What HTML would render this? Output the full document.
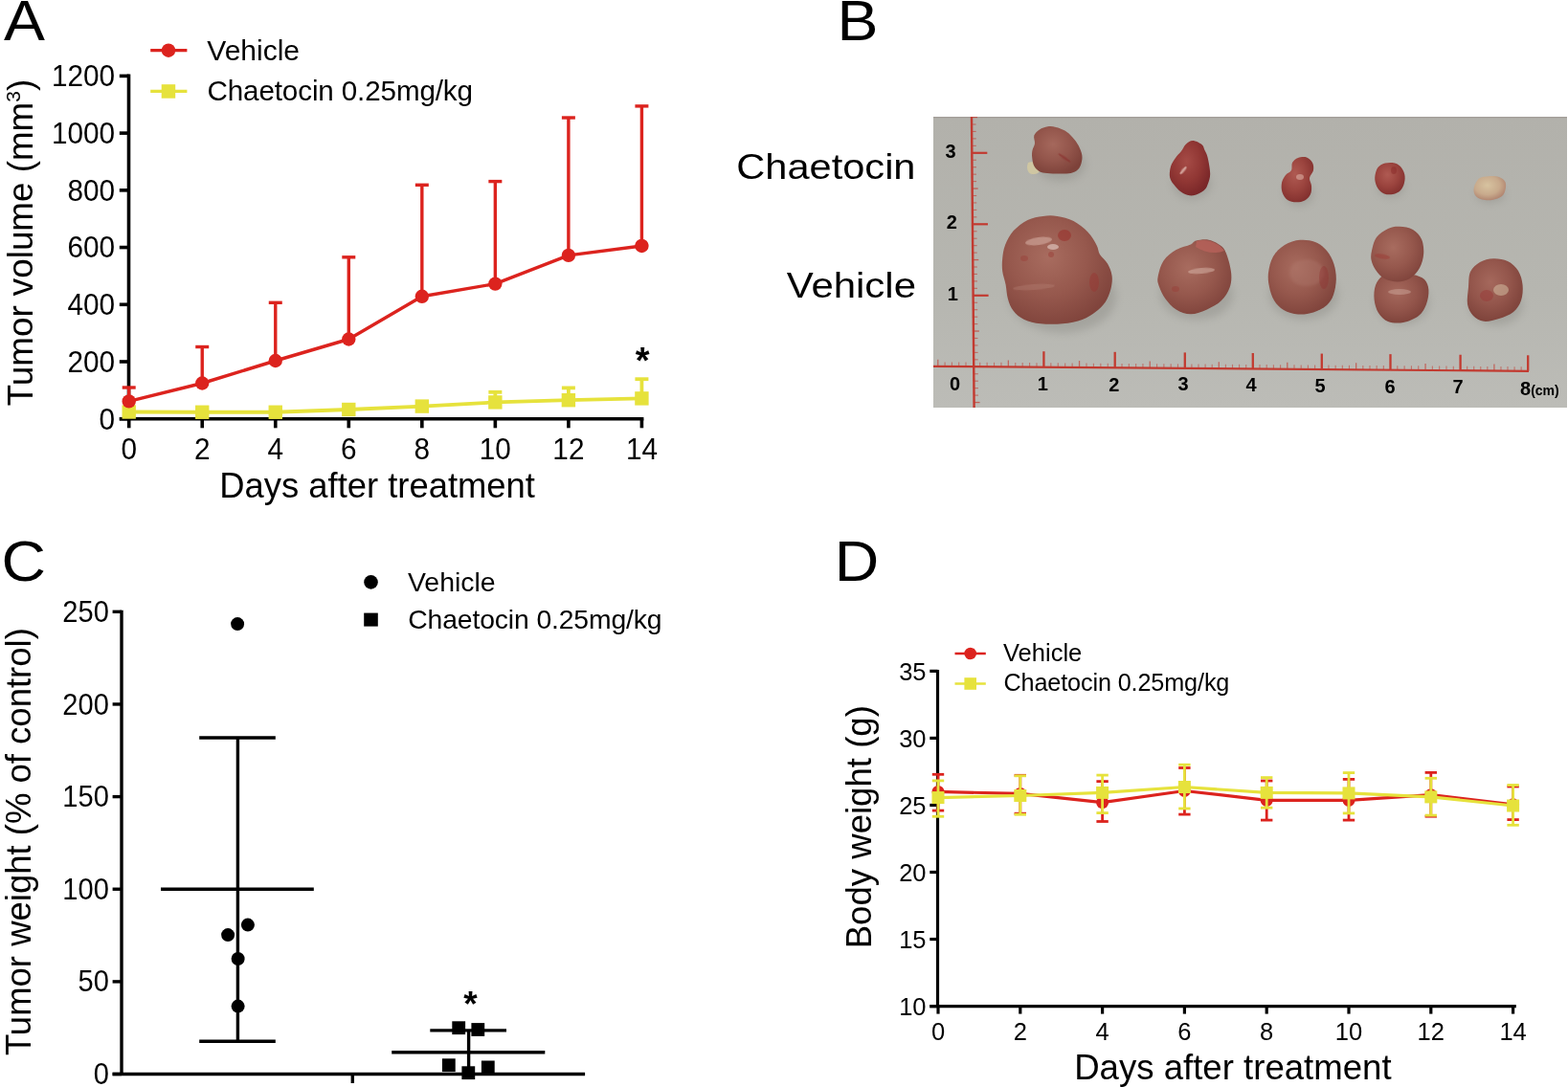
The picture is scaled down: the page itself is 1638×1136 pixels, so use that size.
<!DOCTYPE html>
<html><head><meta charset="utf-8"><title>Figure</title>
<style>
html,body{margin:0;padding:0;background:#fff;}
body{width:1638px;height:1136px;overflow:hidden;}
svg{display:block;}
text{font-family:'Liberation Sans', Arial, Helvetica, sans-serif;fill:#000;}
</style></head><body>
<svg width="1638" height="1136" viewBox="0 0 1638 1136">
<rect width="1638" height="1136" fill="#fff"/>
<text transform="translate(4.0,41.5) scale(1.1,1)" font-size="58.5">A</text>
<text transform="translate(874.5,41.9) scale(1.1,1)" font-size="58.5">B</text>
<text transform="translate(1.5,607.0) scale(1.1,1)" font-size="58.5">C</text>
<text transform="translate(871.8,607.0) scale(1.1,1)" font-size="58.5">D</text>
<line x1="134.50" y1="77.60" x2="134.50" y2="437.70" stroke="#000" stroke-width="3.6" stroke-linecap="butt"/>
<line x1="124.80" y1="437.70" x2="672.40" y2="437.70" stroke="#000" stroke-width="3.6" stroke-linecap="butt"/>
<line x1="124.80" y1="437.70" x2="134.50" y2="437.70" stroke="#000" stroke-width="3.6" stroke-linecap="butt"/>
<text transform="translate(120.00,448.60) scale(0.965,1)" font-size="30.8" text-anchor="end" >0</text>
<line x1="124.80" y1="377.98" x2="134.50" y2="377.98" stroke="#000" stroke-width="3.6" stroke-linecap="butt"/>
<text transform="translate(120.00,388.88) scale(0.965,1)" font-size="30.8" text-anchor="end" >200</text>
<line x1="124.80" y1="318.27" x2="134.50" y2="318.27" stroke="#000" stroke-width="3.6" stroke-linecap="butt"/>
<text transform="translate(120.00,329.17) scale(0.965,1)" font-size="30.8" text-anchor="end" >400</text>
<line x1="124.80" y1="258.55" x2="134.50" y2="258.55" stroke="#000" stroke-width="3.6" stroke-linecap="butt"/>
<text transform="translate(120.00,269.45) scale(0.965,1)" font-size="30.8" text-anchor="end" >600</text>
<line x1="124.80" y1="198.84" x2="134.50" y2="198.84" stroke="#000" stroke-width="3.6" stroke-linecap="butt"/>
<text transform="translate(120.00,209.74) scale(0.965,1)" font-size="30.8" text-anchor="end" >800</text>
<line x1="124.80" y1="139.12" x2="134.50" y2="139.12" stroke="#000" stroke-width="3.6" stroke-linecap="butt"/>
<text transform="translate(120.00,150.02) scale(0.965,1)" font-size="30.8" text-anchor="end" >1000</text>
<line x1="124.80" y1="79.40" x2="134.50" y2="79.40" stroke="#000" stroke-width="3.6" stroke-linecap="butt"/>
<text transform="translate(120.00,90.30) scale(0.965,1)" font-size="30.8" text-anchor="end" >1200</text>
<line x1="134.70" y1="437.70" x2="134.70" y2="447.30" stroke="#000" stroke-width="3.6" stroke-linecap="butt"/>
<text transform="translate(134.70,479.90) scale(0.965,1)" font-size="30.8" text-anchor="middle" >0</text>
<line x1="211.23" y1="437.70" x2="211.23" y2="447.30" stroke="#000" stroke-width="3.6" stroke-linecap="butt"/>
<text transform="translate(211.23,479.90) scale(0.965,1)" font-size="30.8" text-anchor="middle" >2</text>
<line x1="287.76" y1="437.70" x2="287.76" y2="447.30" stroke="#000" stroke-width="3.6" stroke-linecap="butt"/>
<text transform="translate(287.76,479.90) scale(0.965,1)" font-size="30.8" text-anchor="middle" >4</text>
<line x1="364.29" y1="437.70" x2="364.29" y2="447.30" stroke="#000" stroke-width="3.6" stroke-linecap="butt"/>
<text transform="translate(364.29,479.90) scale(0.965,1)" font-size="30.8" text-anchor="middle" >6</text>
<line x1="440.82" y1="437.70" x2="440.82" y2="447.30" stroke="#000" stroke-width="3.6" stroke-linecap="butt"/>
<text transform="translate(440.82,479.90) scale(0.965,1)" font-size="30.8" text-anchor="middle" >8</text>
<line x1="517.35" y1="437.70" x2="517.35" y2="447.30" stroke="#000" stroke-width="3.6" stroke-linecap="butt"/>
<text transform="translate(517.35,479.90) scale(0.965,1)" font-size="30.8" text-anchor="middle" >10</text>
<line x1="593.88" y1="437.70" x2="593.88" y2="447.30" stroke="#000" stroke-width="3.6" stroke-linecap="butt"/>
<text transform="translate(593.88,479.90) scale(0.965,1)" font-size="30.8" text-anchor="middle" >12</text>
<line x1="670.41" y1="437.70" x2="670.41" y2="447.30" stroke="#000" stroke-width="3.6" stroke-linecap="butt"/>
<text transform="translate(670.41,479.90) scale(0.965,1)" font-size="30.8" text-anchor="middle" >14</text>
<text x="229.30" y="520.00" font-size="36.4" text-anchor="start" >Days after treatment</text>
<text transform="translate(33.7,424.3) rotate(-90)" font-size="36.8">Tumor volume (mm<tspan font-size="21" dy="-12.6">3</tspan><tspan dy="12.6">)</tspan></text>
<line x1="157.20" y1="52.70" x2="195.40" y2="52.70" stroke="#dc231e" stroke-width="3.3" stroke-linecap="butt"/>
<circle cx="176" cy="52.7" r="7.2" fill="#dc231e"/>
<line x1="157.20" y1="95.40" x2="195.40" y2="95.40" stroke="#e6e23c" stroke-width="3.3" stroke-linecap="butt"/>
<rect x="168.7" y="88.2" width="14.5" height="14.5" fill="#e6e23c"/>
<text x="216.30" y="62.60" font-size="30.0" text-anchor="start" >Vehicle</text>
<text x="216.50" y="105.10" font-size="29.6" text-anchor="start" letter-spacing="-0.12">Chaetocin 0.25mg/kg</text>
<line x1="517.35" y1="420.40" x2="517.35" y2="409.80" stroke="#e6e23c" stroke-width="3.8" stroke-linecap="butt"/>
<line x1="510.35" y1="409.80" x2="524.35" y2="409.80" stroke="#e6e23c" stroke-width="3.8" stroke-linecap="butt"/>
<line x1="593.88" y1="418.20" x2="593.88" y2="405.40" stroke="#e6e23c" stroke-width="3.8" stroke-linecap="butt"/>
<line x1="586.88" y1="405.40" x2="600.88" y2="405.40" stroke="#e6e23c" stroke-width="3.8" stroke-linecap="butt"/>
<line x1="670.41" y1="416.40" x2="670.41" y2="396.20" stroke="#e6e23c" stroke-width="3.8" stroke-linecap="butt"/>
<line x1="663.41" y1="396.20" x2="677.41" y2="396.20" stroke="#e6e23c" stroke-width="3.8" stroke-linecap="butt"/>
<polyline points="134.70,430.50 211.23,430.75 287.76,430.75 364.29,428.00 440.82,424.60 517.35,420.40 593.88,418.20 670.41,416.40" fill="none" stroke="#e6e23c" stroke-width="3.8" stroke-linejoin="round"/>
<rect x="127.50" y="423.30" width="14.4" height="14.4" fill="#e6e23c"/>
<rect x="204.03" y="423.55" width="14.4" height="14.4" fill="#e6e23c"/>
<rect x="280.56" y="423.55" width="14.4" height="14.4" fill="#e6e23c"/>
<rect x="357.09" y="420.80" width="14.4" height="14.4" fill="#e6e23c"/>
<rect x="433.62" y="417.40" width="14.4" height="14.4" fill="#e6e23c"/>
<rect x="510.15" y="413.20" width="14.4" height="14.4" fill="#e6e23c"/>
<rect x="586.68" y="411.00" width="14.4" height="14.4" fill="#e6e23c"/>
<rect x="663.21" y="409.20" width="14.4" height="14.4" fill="#e6e23c"/>
<line x1="134.70" y1="419.40" x2="134.70" y2="405.00" stroke="#dc231e" stroke-width="3.4" stroke-linecap="butt"/>
<line x1="127.70" y1="405.00" x2="141.70" y2="405.00" stroke="#dc231e" stroke-width="3.4" stroke-linecap="butt"/>
<line x1="211.23" y1="400.50" x2="211.23" y2="362.50" stroke="#dc231e" stroke-width="3.4" stroke-linecap="butt"/>
<line x1="204.23" y1="362.50" x2="218.23" y2="362.50" stroke="#dc231e" stroke-width="3.4" stroke-linecap="butt"/>
<line x1="287.76" y1="377.00" x2="287.76" y2="316.30" stroke="#dc231e" stroke-width="3.4" stroke-linecap="butt"/>
<line x1="280.76" y1="316.30" x2="294.76" y2="316.30" stroke="#dc231e" stroke-width="3.4" stroke-linecap="butt"/>
<line x1="364.29" y1="354.50" x2="364.29" y2="268.80" stroke="#dc231e" stroke-width="3.4" stroke-linecap="butt"/>
<line x1="357.29" y1="268.80" x2="371.29" y2="268.80" stroke="#dc231e" stroke-width="3.4" stroke-linecap="butt"/>
<line x1="440.82" y1="309.80" x2="440.82" y2="193.30" stroke="#dc231e" stroke-width="3.4" stroke-linecap="butt"/>
<line x1="433.82" y1="193.30" x2="447.82" y2="193.30" stroke="#dc231e" stroke-width="3.4" stroke-linecap="butt"/>
<line x1="517.35" y1="296.60" x2="517.35" y2="189.60" stroke="#dc231e" stroke-width="3.4" stroke-linecap="butt"/>
<line x1="510.35" y1="189.60" x2="524.35" y2="189.60" stroke="#dc231e" stroke-width="3.4" stroke-linecap="butt"/>
<line x1="593.88" y1="266.90" x2="593.88" y2="123.00" stroke="#dc231e" stroke-width="3.4" stroke-linecap="butt"/>
<line x1="586.88" y1="123.00" x2="600.88" y2="123.00" stroke="#dc231e" stroke-width="3.4" stroke-linecap="butt"/>
<line x1="670.41" y1="256.95" x2="670.41" y2="110.90" stroke="#dc231e" stroke-width="3.4" stroke-linecap="butt"/>
<line x1="663.41" y1="110.90" x2="677.41" y2="110.90" stroke="#dc231e" stroke-width="3.4" stroke-linecap="butt"/>
<polyline points="134.70,419.40 211.23,400.50 287.76,377.00 364.29,354.50 440.82,309.80 517.35,296.60 593.88,266.90 670.41,256.95" fill="none" stroke="#dc231e" stroke-width="3.4" stroke-linejoin="round"/>
<circle cx="134.70" cy="419.40" r="7.2" fill="#dc231e"/>
<circle cx="211.23" cy="400.50" r="7.2" fill="#dc231e"/>
<circle cx="287.76" cy="377.00" r="7.2" fill="#dc231e"/>
<circle cx="364.29" cy="354.50" r="7.2" fill="#dc231e"/>
<circle cx="440.82" cy="309.80" r="7.2" fill="#dc231e"/>
<circle cx="517.35" cy="296.60" r="7.2" fill="#dc231e"/>
<circle cx="593.88" cy="266.90" r="7.2" fill="#dc231e"/>
<circle cx="670.41" cy="256.95" r="7.2" fill="#dc231e"/>
<text x="671.20" y="389.70" font-size="38" text-anchor="middle" font-weight="bold">*</text>
<defs>
<filter id="blur3" x="-50%" y="-50%" width="200%" height="200%"><feGaussianBlur stdDeviation="4"/></filter>
<filter id="blur1" x="-20%" y="-20%" width="140%" height="140%"><feGaussianBlur stdDeviation="0.7"/></filter>
<filter id="blur2" x="-30%" y="-30%" width="160%" height="160%"><feGaussianBlur stdDeviation="1.6"/></filter>
<clipPath id="photoclip"><rect x="975" y="122" width="662" height="304"/></clipPath>
<radialGradient id="gPink" cx="42%" cy="38%" r="65%"><stop offset="0" stop-color="#a86c5f"/><stop offset="0.55" stop-color="#96584d"/><stop offset="1" stop-color="#80443c"/></radialGradient>
<radialGradient id="gPink2" cx="42%" cy="38%" r="65%"><stop offset="0" stop-color="#a5685c"/><stop offset="0.55" stop-color="#93554b"/><stop offset="1" stop-color="#7d423a"/></radialGradient>
<radialGradient id="gRed" cx="42%" cy="38%" r="65%"><stop offset="0" stop-color="#a54b46"/><stop offset="0.55" stop-color="#913734"/><stop offset="1" stop-color="#782628"/></radialGradient>
<radialGradient id="gRed2" cx="42%" cy="38%" r="65%"><stop offset="0" stop-color="#af5a52"/><stop offset="0.55" stop-color="#9b443e"/><stop offset="1" stop-color="#82302e"/></radialGradient>
<radialGradient id="gPale" cx="42%" cy="38%" r="65%"><stop offset="0" stop-color="#d7c3a0"/><stop offset="0.6" stop-color="#c8aa8c"/><stop offset="1" stop-color="#af826e"/></radialGradient>
<linearGradient id="gBg" x1="0" y1="0" x2="0" y2="1"><stop offset="0" stop-color="#b2b1ab"/><stop offset="0.6" stop-color="#b6b6b0"/><stop offset="1" stop-color="#bcbcb7"/></linearGradient>
</defs>
<g clip-path="url(#photoclip)">
<rect x="975.0" y="122.0" width="662.0" height="304.0" fill="url(#gBg)"/>
<rect x="975.0" y="122.0" width="662.0" height="1.3" fill="#a39e98"/>
<ellipse cx="1108.0" cy="172.0" rx="26.0" ry="17.0" fill="#8d8c86" opacity="0.45" filter="url(#blur3)"/>
<ellipse cx="1245.0" cy="192.0" rx="20.0" ry="16.0" fill="#8d8c86" opacity="0.45" filter="url(#blur3)"/>
<ellipse cx="1357.0" cy="202.0" rx="15.0" ry="13.0" fill="#8d8c86" opacity="0.45" filter="url(#blur3)"/>
<ellipse cx="1453.0" cy="195.0" rx="14.0" ry="11.0" fill="#8d8c86" opacity="0.45" filter="url(#blur3)"/>
<ellipse cx="1557.0" cy="203.0" rx="15.0" ry="9.0" fill="#8d8c86" opacity="0.45" filter="url(#blur3)"/>
<ellipse cx="1110.0" cy="310.0" rx="56.0" ry="38.0" fill="#8d8c86" opacity="0.45" filter="url(#blur3)"/>
<ellipse cx="1250.0" cy="308.0" rx="38.0" ry="26.0" fill="#8d8c86" opacity="0.45" filter="url(#blur3)"/>
<ellipse cx="1362.0" cy="308.0" rx="36.0" ry="26.0" fill="#8d8c86" opacity="0.45" filter="url(#blur3)"/>
<ellipse cx="1465.0" cy="315.0" rx="28.0" ry="24.0" fill="#8d8c86" opacity="0.45" filter="url(#blur3)"/>
<ellipse cx="1563.0" cy="318.0" rx="28.0" ry="22.0" fill="#8d8c86" opacity="0.45" filter="url(#blur3)"/>
<line x1="1015.00" y1="122" x2="1017.60" y2="426" stroke="#c23a30" stroke-width="2.4"/>
<line x1="975" y1="382.80" x2="1597" y2="387.80" stroke="#c23a30" stroke-width="2.2"/>
<line x1="1017.55" y1="420.55" x2="1023.55" y2="420.55" stroke="#c23a30" stroke-width="1.3" opacity="0.7"/>
<line x1="1017.49" y1="413.10" x2="1021.99" y2="413.10" stroke="#c23a30" stroke-width="1.1" opacity="0.6"/>
<line x1="1017.43" y1="405.65" x2="1021.93" y2="405.65" stroke="#c23a30" stroke-width="1.1" opacity="0.6"/>
<line x1="1017.36" y1="398.20" x2="1021.86" y2="398.20" stroke="#c23a30" stroke-width="1.1" opacity="0.6"/>
<line x1="1017.30" y1="390.75" x2="1021.80" y2="390.75" stroke="#c23a30" stroke-width="1.1" opacity="0.6"/>
<line x1="1017.17" y1="375.85" x2="1021.67" y2="375.85" stroke="#c23a30" stroke-width="1.1" opacity="0.6"/>
<line x1="1017.11" y1="368.40" x2="1021.61" y2="368.40" stroke="#c23a30" stroke-width="1.1" opacity="0.6"/>
<line x1="1017.04" y1="360.95" x2="1021.54" y2="360.95" stroke="#c23a30" stroke-width="1.1" opacity="0.6"/>
<line x1="1016.98" y1="353.50" x2="1021.48" y2="353.50" stroke="#c23a30" stroke-width="1.1" opacity="0.6"/>
<line x1="1016.92" y1="346.05" x2="1022.92" y2="346.05" stroke="#c23a30" stroke-width="1.3" opacity="0.7"/>
<line x1="1016.85" y1="338.60" x2="1021.35" y2="338.60" stroke="#c23a30" stroke-width="1.1" opacity="0.6"/>
<line x1="1016.79" y1="331.15" x2="1021.29" y2="331.15" stroke="#c23a30" stroke-width="1.1" opacity="0.6"/>
<line x1="1016.73" y1="323.70" x2="1021.23" y2="323.70" stroke="#c23a30" stroke-width="1.1" opacity="0.6"/>
<line x1="1016.66" y1="316.25" x2="1021.16" y2="316.25" stroke="#c23a30" stroke-width="1.1" opacity="0.6"/>
<line x1="1016.60" y1="308.80" x2="1032.60" y2="308.80" stroke="#c23a30" stroke-width="2.2" opacity="1.0"/>
<line x1="1016.53" y1="301.35" x2="1021.03" y2="301.35" stroke="#c23a30" stroke-width="1.1" opacity="0.6"/>
<line x1="1016.47" y1="293.90" x2="1020.97" y2="293.90" stroke="#c23a30" stroke-width="1.1" opacity="0.6"/>
<line x1="1016.41" y1="286.45" x2="1020.91" y2="286.45" stroke="#c23a30" stroke-width="1.1" opacity="0.6"/>
<line x1="1016.34" y1="279.00" x2="1020.84" y2="279.00" stroke="#c23a30" stroke-width="1.1" opacity="0.6"/>
<line x1="1016.28" y1="271.55" x2="1022.28" y2="271.55" stroke="#c23a30" stroke-width="1.3" opacity="0.7"/>
<line x1="1016.22" y1="264.10" x2="1020.72" y2="264.10" stroke="#c23a30" stroke-width="1.1" opacity="0.6"/>
<line x1="1016.15" y1="256.65" x2="1020.65" y2="256.65" stroke="#c23a30" stroke-width="1.1" opacity="0.6"/>
<line x1="1016.09" y1="249.20" x2="1020.59" y2="249.20" stroke="#c23a30" stroke-width="1.1" opacity="0.6"/>
<line x1="1016.02" y1="241.75" x2="1020.52" y2="241.75" stroke="#c23a30" stroke-width="1.1" opacity="0.6"/>
<line x1="1015.96" y1="234.30" x2="1031.96" y2="234.30" stroke="#c23a30" stroke-width="2.2" opacity="1.0"/>
<line x1="1015.90" y1="226.85" x2="1020.40" y2="226.85" stroke="#c23a30" stroke-width="1.1" opacity="0.6"/>
<line x1="1015.83" y1="219.40" x2="1020.33" y2="219.40" stroke="#c23a30" stroke-width="1.1" opacity="0.6"/>
<line x1="1015.77" y1="211.95" x2="1020.27" y2="211.95" stroke="#c23a30" stroke-width="1.1" opacity="0.6"/>
<line x1="1015.71" y1="204.50" x2="1020.21" y2="204.50" stroke="#c23a30" stroke-width="1.1" opacity="0.6"/>
<line x1="1015.64" y1="197.05" x2="1021.64" y2="197.05" stroke="#c23a30" stroke-width="1.3" opacity="0.7"/>
<line x1="1015.58" y1="189.60" x2="1020.08" y2="189.60" stroke="#c23a30" stroke-width="1.1" opacity="0.6"/>
<line x1="1015.51" y1="182.15" x2="1020.01" y2="182.15" stroke="#c23a30" stroke-width="1.1" opacity="0.6"/>
<line x1="1015.45" y1="174.70" x2="1019.95" y2="174.70" stroke="#c23a30" stroke-width="1.1" opacity="0.6"/>
<line x1="1015.39" y1="167.25" x2="1019.89" y2="167.25" stroke="#c23a30" stroke-width="1.1" opacity="0.6"/>
<line x1="1015.32" y1="159.80" x2="1031.32" y2="159.80" stroke="#c23a30" stroke-width="2.2" opacity="1.0"/>
<line x1="1015.26" y1="152.35" x2="1019.76" y2="152.35" stroke="#c23a30" stroke-width="1.1" opacity="0.6"/>
<line x1="1015.20" y1="144.90" x2="1019.70" y2="144.90" stroke="#c23a30" stroke-width="1.1" opacity="0.6"/>
<line x1="1015.13" y1="137.45" x2="1019.63" y2="137.45" stroke="#c23a30" stroke-width="1.1" opacity="0.6"/>
<line x1="1015.07" y1="130.00" x2="1019.57" y2="130.00" stroke="#c23a30" stroke-width="1.1" opacity="0.6"/>
<line x1="1015.00" y1="122.55" x2="1021.00" y2="122.55" stroke="#c23a30" stroke-width="1.3" opacity="0.7"/>
<line x1="1023.71" y1="383.19" x2="1023.71" y2="378.69" stroke="#c23a30" stroke-width="1.1" opacity="0.55"/>
<line x1="1031.12" y1="383.25" x2="1031.12" y2="378.75" stroke="#c23a30" stroke-width="1.1" opacity="0.55"/>
<line x1="1038.53" y1="383.31" x2="1038.53" y2="378.81" stroke="#c23a30" stroke-width="1.1" opacity="0.55"/>
<line x1="1045.94" y1="383.37" x2="1045.94" y2="378.87" stroke="#c23a30" stroke-width="1.1" opacity="0.55"/>
<line x1="1053.35" y1="383.43" x2="1053.35" y2="376.43" stroke="#c23a30" stroke-width="1.3" opacity="0.65"/>
<line x1="1060.76" y1="383.49" x2="1060.76" y2="378.99" stroke="#c23a30" stroke-width="1.1" opacity="0.55"/>
<line x1="1068.17" y1="383.55" x2="1068.17" y2="379.05" stroke="#c23a30" stroke-width="1.1" opacity="0.55"/>
<line x1="1075.58" y1="383.61" x2="1075.58" y2="379.11" stroke="#c23a30" stroke-width="1.1" opacity="0.55"/>
<line x1="1082.99" y1="383.67" x2="1082.99" y2="379.17" stroke="#c23a30" stroke-width="1.1" opacity="0.55"/>
<line x1="1090.40" y1="383.73" x2="1090.40" y2="367.23" stroke="#c23a30" stroke-width="2.3" opacity="1.0"/>
<line x1="1097.83" y1="383.79" x2="1097.83" y2="379.29" stroke="#c23a30" stroke-width="1.1" opacity="0.55"/>
<line x1="1105.26" y1="383.85" x2="1105.26" y2="379.35" stroke="#c23a30" stroke-width="1.1" opacity="0.55"/>
<line x1="1112.69" y1="383.91" x2="1112.69" y2="379.41" stroke="#c23a30" stroke-width="1.1" opacity="0.55"/>
<line x1="1120.12" y1="383.97" x2="1120.12" y2="379.47" stroke="#c23a30" stroke-width="1.1" opacity="0.55"/>
<line x1="1127.55" y1="384.03" x2="1127.55" y2="377.03" stroke="#c23a30" stroke-width="1.3" opacity="0.65"/>
<line x1="1134.98" y1="384.09" x2="1134.98" y2="379.59" stroke="#c23a30" stroke-width="1.1" opacity="0.55"/>
<line x1="1142.41" y1="384.15" x2="1142.41" y2="379.65" stroke="#c23a30" stroke-width="1.1" opacity="0.55"/>
<line x1="1149.84" y1="384.21" x2="1149.84" y2="379.71" stroke="#c23a30" stroke-width="1.1" opacity="0.55"/>
<line x1="1157.27" y1="384.27" x2="1157.27" y2="379.77" stroke="#c23a30" stroke-width="1.1" opacity="0.55"/>
<line x1="1164.70" y1="384.32" x2="1164.70" y2="367.82" stroke="#c23a30" stroke-width="2.3" opacity="1.0"/>
<line x1="1172.01" y1="384.38" x2="1172.01" y2="379.88" stroke="#c23a30" stroke-width="1.1" opacity="0.55"/>
<line x1="1179.32" y1="384.44" x2="1179.32" y2="379.94" stroke="#c23a30" stroke-width="1.1" opacity="0.55"/>
<line x1="1186.63" y1="384.50" x2="1186.63" y2="380.00" stroke="#c23a30" stroke-width="1.1" opacity="0.55"/>
<line x1="1193.94" y1="384.56" x2="1193.94" y2="380.06" stroke="#c23a30" stroke-width="1.1" opacity="0.55"/>
<line x1="1201.25" y1="384.62" x2="1201.25" y2="377.62" stroke="#c23a30" stroke-width="1.3" opacity="0.65"/>
<line x1="1208.56" y1="384.68" x2="1208.56" y2="380.18" stroke="#c23a30" stroke-width="1.1" opacity="0.55"/>
<line x1="1215.87" y1="384.74" x2="1215.87" y2="380.24" stroke="#c23a30" stroke-width="1.1" opacity="0.55"/>
<line x1="1223.18" y1="384.80" x2="1223.18" y2="380.30" stroke="#c23a30" stroke-width="1.1" opacity="0.55"/>
<line x1="1230.49" y1="384.85" x2="1230.49" y2="380.35" stroke="#c23a30" stroke-width="1.1" opacity="0.55"/>
<line x1="1237.80" y1="384.91" x2="1237.80" y2="368.41" stroke="#c23a30" stroke-width="2.3" opacity="1.0"/>
<line x1="1244.90" y1="384.97" x2="1244.90" y2="380.47" stroke="#c23a30" stroke-width="1.1" opacity="0.55"/>
<line x1="1252.00" y1="385.03" x2="1252.00" y2="380.53" stroke="#c23a30" stroke-width="1.1" opacity="0.55"/>
<line x1="1259.10" y1="385.08" x2="1259.10" y2="380.58" stroke="#c23a30" stroke-width="1.1" opacity="0.55"/>
<line x1="1266.20" y1="385.14" x2="1266.20" y2="380.64" stroke="#c23a30" stroke-width="1.1" opacity="0.55"/>
<line x1="1273.30" y1="385.20" x2="1273.30" y2="378.20" stroke="#c23a30" stroke-width="1.3" opacity="0.65"/>
<line x1="1280.40" y1="385.25" x2="1280.40" y2="380.75" stroke="#c23a30" stroke-width="1.1" opacity="0.55"/>
<line x1="1287.50" y1="385.31" x2="1287.50" y2="380.81" stroke="#c23a30" stroke-width="1.1" opacity="0.55"/>
<line x1="1294.60" y1="385.37" x2="1294.60" y2="380.87" stroke="#c23a30" stroke-width="1.1" opacity="0.55"/>
<line x1="1301.70" y1="385.43" x2="1301.70" y2="380.93" stroke="#c23a30" stroke-width="1.1" opacity="0.55"/>
<line x1="1308.80" y1="385.48" x2="1308.80" y2="368.98" stroke="#c23a30" stroke-width="2.3" opacity="1.0"/>
<line x1="1316.00" y1="385.54" x2="1316.00" y2="381.04" stroke="#c23a30" stroke-width="1.1" opacity="0.55"/>
<line x1="1323.20" y1="385.60" x2="1323.20" y2="381.10" stroke="#c23a30" stroke-width="1.1" opacity="0.55"/>
<line x1="1330.40" y1="385.66" x2="1330.40" y2="381.16" stroke="#c23a30" stroke-width="1.1" opacity="0.55"/>
<line x1="1337.60" y1="385.71" x2="1337.60" y2="381.21" stroke="#c23a30" stroke-width="1.1" opacity="0.55"/>
<line x1="1344.80" y1="385.77" x2="1344.80" y2="378.77" stroke="#c23a30" stroke-width="1.3" opacity="0.65"/>
<line x1="1352.00" y1="385.83" x2="1352.00" y2="381.33" stroke="#c23a30" stroke-width="1.1" opacity="0.55"/>
<line x1="1359.20" y1="385.89" x2="1359.20" y2="381.39" stroke="#c23a30" stroke-width="1.1" opacity="0.55"/>
<line x1="1366.40" y1="385.95" x2="1366.40" y2="381.45" stroke="#c23a30" stroke-width="1.1" opacity="0.55"/>
<line x1="1373.60" y1="386.00" x2="1373.60" y2="381.50" stroke="#c23a30" stroke-width="1.1" opacity="0.55"/>
<line x1="1380.80" y1="386.06" x2="1380.80" y2="369.56" stroke="#c23a30" stroke-width="2.3" opacity="1.0"/>
<line x1="1387.97" y1="386.12" x2="1387.97" y2="381.62" stroke="#c23a30" stroke-width="1.1" opacity="0.55"/>
<line x1="1395.14" y1="386.18" x2="1395.14" y2="381.68" stroke="#c23a30" stroke-width="1.1" opacity="0.55"/>
<line x1="1402.31" y1="386.23" x2="1402.31" y2="381.73" stroke="#c23a30" stroke-width="1.1" opacity="0.55"/>
<line x1="1409.48" y1="386.29" x2="1409.48" y2="381.79" stroke="#c23a30" stroke-width="1.1" opacity="0.55"/>
<line x1="1416.65" y1="386.35" x2="1416.65" y2="379.35" stroke="#c23a30" stroke-width="1.3" opacity="0.65"/>
<line x1="1423.82" y1="386.41" x2="1423.82" y2="381.91" stroke="#c23a30" stroke-width="1.1" opacity="0.55"/>
<line x1="1430.99" y1="386.47" x2="1430.99" y2="381.97" stroke="#c23a30" stroke-width="1.1" opacity="0.55"/>
<line x1="1438.16" y1="386.52" x2="1438.16" y2="382.02" stroke="#c23a30" stroke-width="1.1" opacity="0.55"/>
<line x1="1445.33" y1="386.58" x2="1445.33" y2="382.08" stroke="#c23a30" stroke-width="1.1" opacity="0.55"/>
<line x1="1452.50" y1="386.64" x2="1452.50" y2="370.14" stroke="#c23a30" stroke-width="2.3" opacity="1.0"/>
<line x1="1459.81" y1="386.70" x2="1459.81" y2="382.20" stroke="#c23a30" stroke-width="1.1" opacity="0.55"/>
<line x1="1467.12" y1="386.76" x2="1467.12" y2="382.26" stroke="#c23a30" stroke-width="1.1" opacity="0.55"/>
<line x1="1474.43" y1="386.81" x2="1474.43" y2="382.31" stroke="#c23a30" stroke-width="1.1" opacity="0.55"/>
<line x1="1481.74" y1="386.87" x2="1481.74" y2="382.37" stroke="#c23a30" stroke-width="1.1" opacity="0.55"/>
<line x1="1489.05" y1="386.93" x2="1489.05" y2="379.93" stroke="#c23a30" stroke-width="1.3" opacity="0.65"/>
<line x1="1496.36" y1="386.99" x2="1496.36" y2="382.49" stroke="#c23a30" stroke-width="1.1" opacity="0.55"/>
<line x1="1503.67" y1="387.05" x2="1503.67" y2="382.55" stroke="#c23a30" stroke-width="1.1" opacity="0.55"/>
<line x1="1510.98" y1="387.11" x2="1510.98" y2="382.61" stroke="#c23a30" stroke-width="1.1" opacity="0.55"/>
<line x1="1518.29" y1="387.17" x2="1518.29" y2="382.67" stroke="#c23a30" stroke-width="1.1" opacity="0.55"/>
<line x1="1525.60" y1="387.23" x2="1525.60" y2="370.73" stroke="#c23a30" stroke-width="2.3" opacity="1.0"/>
<line x1="1532.66" y1="387.28" x2="1532.66" y2="382.78" stroke="#c23a30" stroke-width="1.1" opacity="0.55"/>
<line x1="1539.72" y1="387.34" x2="1539.72" y2="382.84" stroke="#c23a30" stroke-width="1.1" opacity="0.55"/>
<line x1="1546.78" y1="387.40" x2="1546.78" y2="382.90" stroke="#c23a30" stroke-width="1.1" opacity="0.55"/>
<line x1="1553.84" y1="387.45" x2="1553.84" y2="382.95" stroke="#c23a30" stroke-width="1.1" opacity="0.55"/>
<line x1="1560.90" y1="387.51" x2="1560.90" y2="380.51" stroke="#c23a30" stroke-width="1.3" opacity="0.65"/>
<line x1="1567.96" y1="387.57" x2="1567.96" y2="383.07" stroke="#c23a30" stroke-width="1.1" opacity="0.55"/>
<line x1="1575.02" y1="387.62" x2="1575.02" y2="383.12" stroke="#c23a30" stroke-width="1.1" opacity="0.55"/>
<line x1="1582.08" y1="387.68" x2="1582.08" y2="383.18" stroke="#c23a30" stroke-width="1.1" opacity="0.55"/>
<line x1="1589.14" y1="387.74" x2="1589.14" y2="383.24" stroke="#c23a30" stroke-width="1.1" opacity="0.55"/>
<line x1="1596.20" y1="387.79" x2="1596.20" y2="371.29" stroke="#c23a30" stroke-width="2.3" opacity="1.0"/>
<line x1="1009.00" y1="383.07" x2="1009.00" y2="378.57" stroke="#c23a30" stroke-width="1.1" opacity="0.55"/>
<line x1="1001.70" y1="383.01" x2="1001.70" y2="378.51" stroke="#c23a30" stroke-width="1.1" opacity="0.55"/>
<line x1="994.40" y1="382.96" x2="994.40" y2="378.46" stroke="#c23a30" stroke-width="1.1" opacity="0.55"/>
<line x1="987.10" y1="382.90" x2="987.10" y2="378.40" stroke="#c23a30" stroke-width="1.1" opacity="0.55"/>
<line x1="979.80" y1="382.84" x2="979.80" y2="375.84" stroke="#c23a30" stroke-width="1.3" opacity="0.65"/>
<text x="993.0" y="164.8" text-anchor="middle" font-weight="bold" font-size="20" fill="#141a1c">3</text>
<text x="994.2" y="239.4" text-anchor="middle" font-weight="bold" font-size="20" fill="#141a1c">2</text>
<text x="995.2" y="314.0" text-anchor="middle" font-weight="bold" font-size="20" fill="#141a1c">1</text>
<text x="997.6" y="407.5" text-anchor="middle" font-weight="bold" font-size="20" fill="#141a1c">0</text>
<text x="1089.3" y="408.1" text-anchor="middle" font-weight="bold" font-size="20" fill="#141a1c">1</text>
<text x="1163.8" y="408.8" text-anchor="middle" font-weight="bold" font-size="20" fill="#141a1c">2</text>
<text x="1236.0" y="408.4" text-anchor="middle" font-weight="bold" font-size="20" fill="#141a1c">3</text>
<text x="1307.0" y="409.0" text-anchor="middle" font-weight="bold" font-size="20" fill="#141a1c">4</text>
<text x="1379.0" y="409.5" text-anchor="middle" font-weight="bold" font-size="20" fill="#141a1c">5</text>
<text x="1452.0" y="410.5" text-anchor="middle" font-weight="bold" font-size="20" fill="#141a1c">6</text>
<text x="1523.0" y="411.2" text-anchor="middle" font-weight="bold" font-size="20" fill="#141a1c">7</text>
<text x="1588" y="413" font-weight="bold" font-size="20" fill="#141a1c">8<tspan font-size="14">(cm)</tspan></text>
<path d="M1074,170 C1078,168 1084,170 1086,176 C1087,180 1084,182 1078,182 C1073,181 1072,175 1074,170Z" fill="#cfc6a2"/>
<path d="M1080.3,141.6 C1081.1,139.2 1083.5,136.9 1085.9,135.4 C1088.3,133.9 1091.6,132.7 1094.5,132.3 C1097.4,131.9 1100.1,132.2 1103.1,132.9 C1106.1,133.6 1109.5,134.8 1112.4,136.6 C1115.3,138.3 1118.0,140.8 1120.4,143.4 C1122.8,146.0 1124.9,148.9 1126.6,152.0 C1128.2,155.1 1129.8,158.8 1130.3,161.9 C1130.8,165.0 1130.3,167.9 1129.6,170.5 C1128.9,173.1 1127.8,175.6 1126.0,177.3 C1124.2,179.1 1121.9,180.3 1118.6,181.0 C1115.3,181.7 1110.3,181.6 1106.2,181.6 C1102.1,181.6 1097.3,181.4 1093.9,181.0 C1090.5,180.6 1088.2,180.4 1085.9,179.2 C1083.6,178.0 1081.6,176.1 1080.3,173.6 C1079.0,171.1 1078.5,167.2 1078.2,164.4 C1077.9,161.6 1078.0,159.4 1078.5,157.0 C1079.0,154.6 1080.7,152.6 1081.0,150.0 C1081.3,147.4 1079.5,144.0 1080.3,141.6Z" fill="url(#gPink2)"/>
<path d="M1238.6,150.9 C1240.6,149.1 1243.2,146.9 1246.0,146.9 C1248.8,146.9 1253.3,149.2 1255.4,150.9 C1257.5,152.6 1257.5,154.8 1258.5,157.0 C1259.5,159.2 1260.5,160.2 1261.5,164.3 C1262.5,168.4 1264.2,177.0 1264.2,181.8 C1264.2,186.6 1262.6,190.1 1261.5,193.0 C1260.4,195.9 1259.9,197.3 1257.4,199.2 C1254.9,201.1 1250.3,203.8 1246.7,204.3 C1243.1,204.8 1239.1,203.6 1236.0,202.0 C1232.9,200.4 1230.3,197.7 1228.0,195.0 C1225.7,192.3 1223.0,189.3 1222.2,185.8 C1221.4,182.3 1222.0,177.5 1223.0,174.0 C1224.0,170.5 1226.2,167.7 1228.0,165.0 C1229.8,162.3 1232.2,160.3 1234.0,158.0 C1235.8,155.7 1236.6,152.8 1238.6,150.9Z" fill="url(#gRed)"/>
<path d="M1356.0,165.0 C1358.5,164.1 1362.5,163.7 1365.0,164.5 C1367.5,165.3 1369.8,167.8 1371.0,170.0 C1372.2,172.2 1372.5,175.3 1372.0,178.0 C1371.5,180.7 1368.3,183.3 1368.0,186.0 C1367.7,188.7 1369.8,191.2 1370.0,194.0 C1370.2,196.8 1370.2,200.4 1369.0,203.0 C1367.8,205.6 1365.5,208.1 1363.0,209.5 C1360.5,210.9 1357.0,211.4 1354.0,211.3 C1351.0,211.2 1347.4,210.7 1345.0,209.0 C1342.6,207.3 1340.5,204.0 1339.5,201.0 C1338.5,198.0 1338.4,194.0 1339.0,191.0 C1339.6,188.0 1341.3,185.2 1343.0,183.0 C1344.7,180.8 1347.8,180.2 1349.0,178.0 C1350.2,175.8 1348.8,172.2 1350.0,170.0 C1351.2,167.8 1353.5,165.9 1356.0,165.0Z" fill="url(#gRed2)"/>
<path d="M1447.0,170.5 C1449.5,170.0 1453.3,169.7 1456.0,170.3 C1458.7,170.9 1461.1,172.1 1463.0,174.0 C1464.9,175.9 1466.5,179.2 1467.2,182.0 C1467.9,184.8 1467.7,188.2 1467.0,191.0 C1466.3,193.8 1465.0,197.0 1463.0,199.0 C1461.0,201.0 1457.8,202.4 1455.0,203.0 C1452.2,203.6 1448.6,203.5 1446.0,202.5 C1443.4,201.5 1441.1,199.4 1439.5,197.0 C1437.9,194.6 1436.6,191.0 1436.3,188.0 C1436.0,185.0 1436.7,181.4 1437.5,179.0 C1438.3,176.6 1439.4,174.9 1441.0,173.5 C1442.6,172.1 1444.5,171.0 1447.0,170.5Z" fill="url(#gRed2)"/>
<path d="M1545.0,186.5 C1547.5,184.5 1551.5,184.4 1555.0,184.2 C1558.5,183.9 1563.1,184.0 1566.0,185.0 C1568.9,186.0 1571.3,187.8 1572.4,190.0 C1573.5,192.2 1573.2,195.5 1572.6,198.0 C1572.0,200.5 1571.3,203.2 1569.0,205.0 C1566.7,206.8 1562.5,208.4 1559.0,209.0 C1555.5,209.6 1551.0,209.3 1548.0,208.5 C1545.0,207.7 1542.4,206.1 1541.0,204.0 C1539.6,201.9 1539.1,198.9 1539.8,196.0 C1540.5,193.1 1542.5,188.5 1545.0,186.5Z" fill="url(#gPale)"/>
<path d="M1047.2,269.9 C1047.7,265.3 1048.1,261.0 1050.0,256.2 C1051.9,251.4 1054.7,245.7 1058.6,241.3 C1062.5,236.9 1068.3,232.5 1073.5,229.9 C1078.7,227.3 1084.3,226.6 1089.5,225.9 C1094.7,225.2 1099.1,225.1 1104.4,225.9 C1109.7,226.8 1116.2,228.2 1121.5,231.0 C1126.8,233.8 1132.4,238.3 1136.4,242.5 C1140.4,246.7 1143.5,252.3 1145.6,256.2 C1147.7,260.1 1147.1,262.8 1149.0,266.0 C1150.9,269.2 1154.9,271.9 1157.0,275.6 C1159.1,279.3 1161.0,283.8 1161.6,288.2 C1162.2,292.6 1161.6,297.4 1160.4,302.0 C1159.2,306.6 1157.4,311.7 1154.7,315.7 C1152.0,319.7 1148.4,322.9 1144.4,326.0 C1140.4,329.1 1136.4,331.9 1130.7,334.0 C1125.0,336.1 1117.3,337.6 1110.1,338.3 C1102.8,339.0 1093.9,339.0 1087.2,338.3 C1080.5,337.6 1074.8,336.2 1070.0,334.0 C1065.2,331.8 1061.4,328.4 1058.6,324.8 C1055.8,321.2 1054.2,316.9 1052.9,312.3 C1051.6,307.7 1051.5,302.2 1050.6,297.4 C1049.6,292.6 1047.8,288.2 1047.2,283.6 C1046.6,279.0 1046.7,274.5 1047.2,269.9Z" fill="url(#gPink)"/>
<path d="M1209.6,289.5 C1210.4,285.1 1212.3,277.2 1215.5,272.5 C1218.7,267.8 1224.0,264.0 1228.7,261.1 C1233.4,258.2 1240.4,257.0 1243.9,255.4 C1247.4,253.8 1246.3,252.4 1249.5,251.6 C1252.7,250.8 1258.4,249.8 1262.8,250.7 C1267.2,251.6 1272.8,254.6 1276.0,257.3 C1279.2,260.0 1280.0,262.1 1281.7,266.8 C1283.4,271.5 1285.7,280.0 1286.2,285.7 C1286.7,291.4 1286.2,296.1 1284.5,300.8 C1282.8,305.5 1279.9,310.3 1276.0,314.1 C1272.1,317.9 1266.2,321.1 1260.9,323.5 C1255.6,325.9 1249.3,328.3 1243.9,328.3 C1238.5,328.3 1233.1,326.2 1228.7,323.5 C1224.3,320.8 1220.4,316.3 1217.4,312.2 C1214.4,308.1 1212.0,302.8 1210.7,299.0 C1209.4,295.2 1208.8,293.9 1209.6,289.5Z" fill="url(#gPink)"/>
<path d="M1250,252 C1258,249 1272,252 1279,262 C1270,266 1258,264 1249,258Z" fill="#b8625a" opacity="0.8"/>
<path d="M1325.0,285.0 C1325.7,279.7 1327.2,272.8 1330.0,268.0 C1332.8,263.2 1337.3,258.9 1342.0,256.0 C1346.7,253.1 1352.7,251.3 1358.0,250.8 C1363.3,250.3 1369.3,251.1 1374.0,253.0 C1378.7,254.9 1382.8,258.2 1386.0,262.0 C1389.2,265.8 1391.9,271.0 1393.5,276.0 C1395.1,281.0 1395.9,286.7 1395.8,292.0 C1395.7,297.3 1394.6,303.5 1393.0,308.0 C1391.4,312.5 1389.5,315.9 1386.0,319.0 C1382.5,322.1 1377.0,324.9 1372.0,326.5 C1367.0,328.1 1361.2,328.8 1356.0,328.4 C1350.8,328.0 1345.2,326.4 1341.0,324.0 C1336.8,321.6 1333.5,318.0 1331.0,314.0 C1328.5,310.0 1327.0,304.8 1326.0,300.0 C1325.0,295.2 1324.3,290.3 1325.0,285.0Z" fill="url(#gPink)"/>
<path d="M1437.0,298.0 C1438.6,293.8 1441.2,290.1 1445.0,288.0 C1448.8,285.9 1454.8,285.7 1460.0,285.5 C1465.2,285.3 1471.3,285.9 1476.0,287.0 C1480.7,288.1 1485.3,289.3 1488.0,292.0 C1490.7,294.7 1492.1,298.7 1492.4,303.0 C1492.7,307.3 1491.7,313.5 1490.0,318.0 C1488.3,322.5 1486.0,326.8 1482.0,330.0 C1478.0,333.2 1471.3,336.0 1466.0,337.0 C1460.7,338.0 1454.3,337.7 1450.0,336.0 C1445.7,334.3 1442.4,330.8 1440.0,327.0 C1437.6,323.2 1436.1,317.8 1435.6,313.0 C1435.1,308.2 1435.4,302.2 1437.0,298.0Z" fill="url(#gPink2)"/>
<path d="M1433.0,262.0 C1433.9,258.0 1435.2,251.8 1438.0,248.0 C1440.8,244.2 1446.0,240.9 1450.0,239.0 C1454.0,237.1 1457.7,236.6 1462.0,236.8 C1466.3,237.0 1472.2,237.8 1476.0,240.0 C1479.8,242.2 1483.1,245.8 1485.0,250.0 C1486.9,254.2 1487.5,260.0 1487.2,265.0 C1486.9,270.0 1485.4,275.7 1483.0,280.0 C1480.6,284.3 1476.8,288.6 1473.0,291.0 C1469.2,293.4 1464.5,294.4 1460.0,294.4 C1455.5,294.4 1449.8,293.1 1446.0,291.0 C1442.2,288.9 1439.2,285.2 1437.0,282.0 C1434.8,278.8 1433.3,275.3 1432.6,272.0 C1431.9,268.7 1432.1,266.0 1433.0,262.0Z" fill="url(#gPink)"/>
<path d="M1534.0,300.0 C1534.5,294.3 1534.0,288.3 1536.0,284.0 C1538.0,279.7 1542.0,276.3 1546.0,274.0 C1550.0,271.7 1555.2,270.4 1560.0,270.2 C1564.8,270.0 1570.7,270.9 1575.0,273.0 C1579.3,275.1 1583.4,278.8 1586.0,283.0 C1588.6,287.2 1590.1,292.8 1590.6,298.0 C1591.1,303.2 1590.6,309.3 1589.0,314.0 C1587.4,318.7 1584.8,322.8 1581.0,326.0 C1577.2,329.2 1571.2,331.4 1566.0,333.0 C1560.8,334.6 1554.5,336.3 1550.0,335.8 C1545.5,335.3 1541.8,333.0 1539.0,330.0 C1536.2,327.0 1533.8,323.0 1533.0,318.0 C1532.2,313.0 1533.5,305.7 1534.0,300.0Z" fill="url(#gPink2)"/>
<ellipse cx="1553" cy="309" rx="7" ry="6" fill="#9a3c3a" opacity="0.55" filter="url(#blur1)"/>
<ellipse cx="1085" cy="252" rx="14" ry="4" fill="#d9b3a8" opacity="0.55" filter="url(#blur1)" transform="rotate(-8 1085 252)"/>
<ellipse cx="1100" cy="258" rx="6" ry="3" fill="#e6cfc8" opacity="0.6" filter="url(#blur1)" transform="rotate(0 1100 258)"/>
<ellipse cx="1112" cy="246" rx="7" ry="6" fill="#9a2e2a" opacity="0.55" filter="url(#blur1)" transform="rotate(0 1112 246)"/>
<ellipse cx="1070" cy="270" rx="4" ry="3" fill="#9a3a34" opacity="0.4" filter="url(#blur1)" transform="rotate(0 1070 270)"/>
<ellipse cx="1098" cy="266" rx="3" ry="3" fill="#9a3a34" opacity="0.45" filter="url(#blur1)" transform="rotate(0 1098 266)"/>
<ellipse cx="1080" cy="300" rx="22" ry="3" fill="#b88478" opacity="0.35" filter="url(#blur1)" transform="rotate(-4 1080 300)"/>
<ellipse cx="1143" cy="295" rx="5" ry="10" fill="#9a3430" opacity="0.45" filter="url(#blur1)" transform="rotate(0 1143 295)"/>
<ellipse cx="1255" cy="283" rx="14" ry="3" fill="#d6b2a6" opacity="0.55" filter="url(#blur1)" transform="rotate(-5 1255 283)"/>
<ellipse cx="1228" cy="302" rx="4" ry="3" fill="#9a3a34" opacity="0.4" filter="url(#blur1)" transform="rotate(0 1228 302)"/>
<ellipse cx="1365" cy="285" rx="18" ry="14" fill="#b07a6e" opacity="0.35" filter="url(#blur2)" transform="rotate(0 1365 285)"/>
<ellipse cx="1383" cy="290" rx="5" ry="12" fill="#8f3330" opacity="0.4" filter="url(#blur1)" transform="rotate(0 1383 290)"/>
<ellipse cx="1444" cy="268" rx="8" ry="2.5" fill="#9c3a34" opacity="0.5" filter="url(#blur1)" transform="rotate(10 1444 268)"/>
<ellipse cx="1462" cy="305" rx="12" ry="3" fill="#d2aea2" opacity="0.45" filter="url(#blur1)" transform="rotate(0 1462 305)"/>
<ellipse cx="1568" cy="303" rx="8" ry="6" fill="#d8c5a8" opacity="0.5" filter="url(#blur1)" transform="rotate(0 1568 303)"/>
<ellipse cx="1112" cy="165" rx="8" ry="1.5" fill="#8a2c2a" opacity="0.5" filter="url(#blur1)" transform="rotate(35 1112 165)"/>
<ellipse cx="1236" cy="178" rx="5" ry="1.5" fill="#e8c6bc" opacity="0.7" filter="url(#blur1)" transform="rotate(-50 1236 178)"/>
<ellipse cx="1358" cy="185" rx="4" ry="3" fill="#e6c0b4" opacity="0.5" filter="url(#blur1)" transform="rotate(0 1358 185)"/>
<ellipse cx="1456" cy="178" rx="3" ry="4" fill="#8a2c2a" opacity="0.5" filter="url(#blur1)" transform="rotate(0 1456 178)"/>
</g>
<text transform="translate(956.5,186.5) scale(1.13,1)" font-size="36.8" text-anchor="end">Chaetocin</text>
<text transform="translate(957.0,311.0) scale(1.14,1)" font-size="36.8" text-anchor="end">Vehicle</text>
<line x1="127.00" y1="637.70" x2="127.00" y2="1122.50" stroke="#000" stroke-width="3.4" stroke-linecap="butt"/>
<line x1="117.60" y1="1122.50" x2="611.10" y2="1122.50" stroke="#000" stroke-width="3.4" stroke-linecap="butt"/>
<line x1="117.60" y1="1122.50" x2="127.00" y2="1122.50" stroke="#000" stroke-width="3.4" stroke-linecap="butt"/>
<text transform="translate(113.80,1133.10) scale(0.95,1)" font-size="30.6" text-anchor="end" >0</text>
<line x1="117.60" y1="1025.87" x2="127.00" y2="1025.87" stroke="#000" stroke-width="3.4" stroke-linecap="butt"/>
<text transform="translate(113.80,1036.46) scale(0.95,1)" font-size="30.6" text-anchor="end" >50</text>
<line x1="117.60" y1="929.23" x2="127.00" y2="929.23" stroke="#000" stroke-width="3.4" stroke-linecap="butt"/>
<text transform="translate(113.80,939.83) scale(0.95,1)" font-size="30.6" text-anchor="end" >100</text>
<line x1="117.60" y1="832.60" x2="127.00" y2="832.60" stroke="#000" stroke-width="3.4" stroke-linecap="butt"/>
<text transform="translate(113.80,843.20) scale(0.95,1)" font-size="30.6" text-anchor="end" >150</text>
<line x1="117.60" y1="735.96" x2="127.00" y2="735.96" stroke="#000" stroke-width="3.4" stroke-linecap="butt"/>
<text transform="translate(113.80,746.56) scale(0.95,1)" font-size="30.6" text-anchor="end" >200</text>
<line x1="117.60" y1="639.33" x2="127.00" y2="639.33" stroke="#000" stroke-width="3.4" stroke-linecap="butt"/>
<text transform="translate(113.80,649.93) scale(0.95,1)" font-size="30.6" text-anchor="end" >250</text>
<line x1="368.30" y1="1122.50" x2="368.30" y2="1132.00" stroke="#000" stroke-width="3.4" stroke-linecap="butt"/>
<text transform="translate(32.4,1103.1) rotate(-90)" font-size="36.5">Tumor weight (% of control)</text>
<line x1="248.40" y1="771.00" x2="248.40" y2="1088.20" stroke="#000" stroke-width="3.4" stroke-linecap="butt"/>
<line x1="208.20" y1="771.00" x2="287.80" y2="771.00" stroke="#000" stroke-width="3.4" stroke-linecap="butt"/>
<line x1="208.20" y1="1088.20" x2="287.80" y2="1088.20" stroke="#000" stroke-width="3.4" stroke-linecap="butt"/>
<line x1="168.00" y1="929.30" x2="327.80" y2="929.30" stroke="#000" stroke-width="3.4" stroke-linecap="butt"/>
<circle cx="248.1" cy="652.1" r="7" fill="#000"/>
<circle cx="238.1" cy="977.1" r="7" fill="#000"/>
<circle cx="258.9" cy="966.6" r="7" fill="#000"/>
<circle cx="248.6" cy="1002.0" r="7" fill="#000"/>
<circle cx="248.6" cy="1051.6" r="7" fill="#000"/>
<line x1="489.60" y1="1076.90" x2="489.60" y2="1122.00" stroke="#000" stroke-width="3.4" stroke-linecap="butt"/>
<line x1="449.30" y1="1076.90" x2="529.00" y2="1076.90" stroke="#000" stroke-width="3.4" stroke-linecap="butt"/>
<line x1="409.20" y1="1099.80" x2="569.30" y2="1099.80" stroke="#000" stroke-width="3.4" stroke-linecap="butt"/>
<rect x="472.30" y="1067.30" width="13.8" height="13.8" fill="#000"/>
<rect x="492.40" y="1069.10" width="13.8" height="13.8" fill="#000"/>
<rect x="461.90" y="1106.30" width="13.8" height="13.8" fill="#000"/>
<rect x="482.40" y="1114.30" width="13.8" height="13.8" fill="#000"/>
<rect x="502.90" y="1108.50" width="13.8" height="13.8" fill="#000"/>
<text x="491.50" y="1061.70" font-size="37" text-anchor="middle" font-weight="bold">*</text>
<circle cx="387.5" cy="608.4" r="7.3" fill="#000"/>
<rect x="380.2" y="640.6" width="14.6" height="14.0" fill="#000"/>
<text x="426.00" y="617.80" font-size="28.4" text-anchor="start" >Vehicle</text>
<text x="426.30" y="656.80" font-size="28.3" text-anchor="start" letter-spacing="-0.12">Chaetocin 0.25mg/kg</text>
<line x1="979.50" y1="700.00" x2="979.50" y2="1051.60" stroke="#000" stroke-width="3.2" stroke-linecap="butt"/>
<line x1="971.30" y1="1051.60" x2="1583.80" y2="1051.60" stroke="#000" stroke-width="3.2" stroke-linecap="butt"/>
<line x1="971.30" y1="1051.60" x2="979.50" y2="1051.60" stroke="#000" stroke-width="3.2" stroke-linecap="butt"/>
<text x="967.50" y="1060.80" font-size="25.5" text-anchor="end" >10</text>
<line x1="971.30" y1="981.55" x2="979.50" y2="981.55" stroke="#000" stroke-width="3.2" stroke-linecap="butt"/>
<text x="967.50" y="990.75" font-size="25.5" text-anchor="end" >15</text>
<line x1="971.30" y1="911.50" x2="979.50" y2="911.50" stroke="#000" stroke-width="3.2" stroke-linecap="butt"/>
<text x="967.50" y="920.70" font-size="25.5" text-anchor="end" >20</text>
<line x1="971.30" y1="841.45" x2="979.50" y2="841.45" stroke="#000" stroke-width="3.2" stroke-linecap="butt"/>
<text x="967.50" y="850.65" font-size="25.5" text-anchor="end" >25</text>
<line x1="971.30" y1="771.40" x2="979.50" y2="771.40" stroke="#000" stroke-width="3.2" stroke-linecap="butt"/>
<text x="967.50" y="780.60" font-size="25.5" text-anchor="end" >30</text>
<line x1="971.30" y1="701.35" x2="979.50" y2="701.35" stroke="#000" stroke-width="3.2" stroke-linecap="butt"/>
<text x="967.50" y="710.55" font-size="25.5" text-anchor="end" >35</text>
<line x1="980.00" y1="1051.60" x2="980.00" y2="1059.60" stroke="#000" stroke-width="3.2" stroke-linecap="butt"/>
<text x="980.00" y="1087.20" font-size="25.5" text-anchor="middle" >0</text>
<line x1="1065.80" y1="1051.60" x2="1065.80" y2="1059.60" stroke="#000" stroke-width="3.2" stroke-linecap="butt"/>
<text x="1065.80" y="1087.20" font-size="25.5" text-anchor="middle" >2</text>
<line x1="1151.60" y1="1051.60" x2="1151.60" y2="1059.60" stroke="#000" stroke-width="3.2" stroke-linecap="butt"/>
<text x="1151.60" y="1087.20" font-size="25.5" text-anchor="middle" >4</text>
<line x1="1237.40" y1="1051.60" x2="1237.40" y2="1059.60" stroke="#000" stroke-width="3.2" stroke-linecap="butt"/>
<text x="1237.40" y="1087.20" font-size="25.5" text-anchor="middle" >6</text>
<line x1="1323.20" y1="1051.60" x2="1323.20" y2="1059.60" stroke="#000" stroke-width="3.2" stroke-linecap="butt"/>
<text x="1323.20" y="1087.20" font-size="25.5" text-anchor="middle" >8</text>
<line x1="1409.00" y1="1051.60" x2="1409.00" y2="1059.60" stroke="#000" stroke-width="3.2" stroke-linecap="butt"/>
<text x="1409.00" y="1087.20" font-size="25.5" text-anchor="middle" >10</text>
<line x1="1494.80" y1="1051.60" x2="1494.80" y2="1059.60" stroke="#000" stroke-width="3.2" stroke-linecap="butt"/>
<text x="1494.80" y="1087.20" font-size="25.5" text-anchor="middle" >12</text>
<line x1="1580.60" y1="1051.60" x2="1580.60" y2="1059.60" stroke="#000" stroke-width="3.2" stroke-linecap="butt"/>
<text x="1580.60" y="1087.20" font-size="25.5" text-anchor="middle" >14</text>
<text x="1122.20" y="1127.50" font-size="36.6" text-anchor="start" >Days after treatment</text>
<text transform="translate(909.6,991.3) rotate(-90)" font-size="36.6">Body weight (g)</text>
<line x1="997.50" y1="683.00" x2="1029.80" y2="683.00" stroke="#dc231e" stroke-width="2.6" stroke-linecap="butt"/>
<circle cx="1013.7" cy="683.0" r="6.3" fill="#dc231e"/>
<line x1="997.50" y1="714.50" x2="1029.80" y2="714.50" stroke="#e6e23c" stroke-width="2.6" stroke-linecap="butt"/>
<rect x="1007.4" y="708.2" width="12.6" height="12.6" fill="#e6e23c"/>
<text x="1048.00" y="690.80" font-size="25.5" text-anchor="start" >Vehicle</text>
<text x="1048.50" y="722.40" font-size="25.2" text-anchor="start" letter-spacing="-0.12">Chaetocin 0.25mg/kg</text>
<line x1="980.00" y1="809.30" x2="980.00" y2="847.10" stroke="#dc231e" stroke-width="2.8" stroke-linecap="butt"/>
<line x1="973.80" y1="809.30" x2="986.20" y2="809.30" stroke="#dc231e" stroke-width="2.8" stroke-linecap="butt"/>
<line x1="973.80" y1="847.10" x2="986.20" y2="847.10" stroke="#dc231e" stroke-width="2.8" stroke-linecap="butt"/>
<line x1="1065.80" y1="810.30" x2="1065.80" y2="850.20" stroke="#dc231e" stroke-width="2.8" stroke-linecap="butt"/>
<line x1="1059.60" y1="810.30" x2="1072.00" y2="810.30" stroke="#dc231e" stroke-width="2.8" stroke-linecap="butt"/>
<line x1="1059.60" y1="850.20" x2="1072.00" y2="850.20" stroke="#dc231e" stroke-width="2.8" stroke-linecap="butt"/>
<line x1="1151.60" y1="816.60" x2="1151.60" y2="858.50" stroke="#dc231e" stroke-width="2.8" stroke-linecap="butt"/>
<line x1="1145.40" y1="816.60" x2="1157.80" y2="816.60" stroke="#dc231e" stroke-width="2.8" stroke-linecap="butt"/>
<line x1="1145.40" y1="858.50" x2="1157.80" y2="858.50" stroke="#dc231e" stroke-width="2.8" stroke-linecap="butt"/>
<line x1="1237.40" y1="802.50" x2="1237.40" y2="851.10" stroke="#dc231e" stroke-width="2.8" stroke-linecap="butt"/>
<line x1="1231.20" y1="802.50" x2="1243.60" y2="802.50" stroke="#dc231e" stroke-width="2.8" stroke-linecap="butt"/>
<line x1="1231.20" y1="851.10" x2="1243.60" y2="851.10" stroke="#dc231e" stroke-width="2.8" stroke-linecap="butt"/>
<line x1="1323.20" y1="816.00" x2="1323.20" y2="857.10" stroke="#dc231e" stroke-width="2.8" stroke-linecap="butt"/>
<line x1="1317.00" y1="816.00" x2="1329.40" y2="816.00" stroke="#dc231e" stroke-width="2.8" stroke-linecap="butt"/>
<line x1="1317.00" y1="857.10" x2="1329.40" y2="857.10" stroke="#dc231e" stroke-width="2.8" stroke-linecap="butt"/>
<line x1="1409.00" y1="814.40" x2="1409.00" y2="857.10" stroke="#dc231e" stroke-width="2.8" stroke-linecap="butt"/>
<line x1="1402.80" y1="814.40" x2="1415.20" y2="814.40" stroke="#dc231e" stroke-width="2.8" stroke-linecap="butt"/>
<line x1="1402.80" y1="857.10" x2="1415.20" y2="857.10" stroke="#dc231e" stroke-width="2.8" stroke-linecap="butt"/>
<line x1="1494.80" y1="807.40" x2="1494.80" y2="853.20" stroke="#dc231e" stroke-width="2.8" stroke-linecap="butt"/>
<line x1="1488.60" y1="807.40" x2="1501.00" y2="807.40" stroke="#dc231e" stroke-width="2.8" stroke-linecap="butt"/>
<line x1="1488.60" y1="853.20" x2="1501.00" y2="853.20" stroke="#dc231e" stroke-width="2.8" stroke-linecap="butt"/>
<line x1="1580.60" y1="822.00" x2="1580.60" y2="856.60" stroke="#dc231e" stroke-width="2.8" stroke-linecap="butt"/>
<line x1="1574.40" y1="822.00" x2="1586.80" y2="822.00" stroke="#dc231e" stroke-width="2.8" stroke-linecap="butt"/>
<line x1="1574.40" y1="856.60" x2="1586.80" y2="856.60" stroke="#dc231e" stroke-width="2.8" stroke-linecap="butt"/>
<polyline points="980.00,827.40 1065.80,829.40 1151.60,838.60 1237.40,826.50 1323.20,836.30 1409.00,836.30 1494.80,830.70 1580.60,840.80" fill="none" stroke="#dc231e" stroke-width="3.2" stroke-linejoin="round"/>
<circle cx="980.00" cy="827.40" r="6.5" fill="#dc231e"/>
<circle cx="1065.80" cy="829.40" r="6.5" fill="#dc231e"/>
<circle cx="1151.60" cy="838.60" r="6.5" fill="#dc231e"/>
<circle cx="1237.40" cy="826.50" r="6.5" fill="#dc231e"/>
<circle cx="1323.20" cy="836.30" r="6.5" fill="#dc231e"/>
<circle cx="1409.00" cy="836.30" r="6.5" fill="#dc231e"/>
<circle cx="1494.80" cy="830.70" r="6.5" fill="#dc231e"/>
<circle cx="1580.60" cy="840.80" r="6.5" fill="#dc231e"/>
<line x1="980.00" y1="815.90" x2="980.00" y2="853.30" stroke="#e6e23c" stroke-width="2.8" stroke-linecap="butt"/>
<line x1="973.80" y1="815.90" x2="986.20" y2="815.90" stroke="#e6e23c" stroke-width="2.8" stroke-linecap="butt"/>
<line x1="973.80" y1="853.30" x2="986.20" y2="853.30" stroke="#e6e23c" stroke-width="2.8" stroke-linecap="butt"/>
<line x1="1065.80" y1="810.80" x2="1065.80" y2="851.20" stroke="#e6e23c" stroke-width="2.8" stroke-linecap="butt"/>
<line x1="1059.60" y1="810.80" x2="1072.00" y2="810.80" stroke="#e6e23c" stroke-width="2.8" stroke-linecap="butt"/>
<line x1="1059.60" y1="851.20" x2="1072.00" y2="851.20" stroke="#e6e23c" stroke-width="2.8" stroke-linecap="butt"/>
<line x1="1151.60" y1="810.10" x2="1151.60" y2="849.60" stroke="#e6e23c" stroke-width="2.8" stroke-linecap="butt"/>
<line x1="1145.40" y1="810.10" x2="1157.80" y2="810.10" stroke="#e6e23c" stroke-width="2.8" stroke-linecap="butt"/>
<line x1="1145.40" y1="849.60" x2="1157.80" y2="849.60" stroke="#e6e23c" stroke-width="2.8" stroke-linecap="butt"/>
<line x1="1237.40" y1="799.20" x2="1237.40" y2="845.00" stroke="#e6e23c" stroke-width="2.8" stroke-linecap="butt"/>
<line x1="1231.20" y1="799.20" x2="1243.60" y2="799.20" stroke="#e6e23c" stroke-width="2.8" stroke-linecap="butt"/>
<line x1="1231.20" y1="845.00" x2="1243.60" y2="845.00" stroke="#e6e23c" stroke-width="2.8" stroke-linecap="butt"/>
<line x1="1323.20" y1="812.60" x2="1323.20" y2="844.20" stroke="#e6e23c" stroke-width="2.8" stroke-linecap="butt"/>
<line x1="1317.00" y1="812.60" x2="1329.40" y2="812.60" stroke="#e6e23c" stroke-width="2.8" stroke-linecap="butt"/>
<line x1="1317.00" y1="844.20" x2="1329.40" y2="844.20" stroke="#e6e23c" stroke-width="2.8" stroke-linecap="butt"/>
<line x1="1409.00" y1="807.60" x2="1409.00" y2="849.90" stroke="#e6e23c" stroke-width="2.8" stroke-linecap="butt"/>
<line x1="1402.80" y1="807.60" x2="1415.20" y2="807.60" stroke="#e6e23c" stroke-width="2.8" stroke-linecap="butt"/>
<line x1="1402.80" y1="849.90" x2="1415.20" y2="849.90" stroke="#e6e23c" stroke-width="2.8" stroke-linecap="butt"/>
<line x1="1494.80" y1="813.30" x2="1494.80" y2="852.10" stroke="#e6e23c" stroke-width="2.8" stroke-linecap="butt"/>
<line x1="1488.60" y1="813.30" x2="1501.00" y2="813.30" stroke="#e6e23c" stroke-width="2.8" stroke-linecap="butt"/>
<line x1="1488.60" y1="852.10" x2="1501.00" y2="852.10" stroke="#e6e23c" stroke-width="2.8" stroke-linecap="butt"/>
<line x1="1580.60" y1="820.50" x2="1580.60" y2="862.30" stroke="#e6e23c" stroke-width="2.8" stroke-linecap="butt"/>
<line x1="1574.40" y1="820.50" x2="1586.80" y2="820.50" stroke="#e6e23c" stroke-width="2.8" stroke-linecap="butt"/>
<line x1="1574.40" y1="862.30" x2="1586.80" y2="862.30" stroke="#e6e23c" stroke-width="2.8" stroke-linecap="butt"/>
<polyline points="980.00,833.60 1065.80,831.50 1151.60,828.40 1237.40,822.50 1323.20,828.40 1409.00,828.90 1494.80,832.90 1580.60,842.00" fill="none" stroke="#e6e23c" stroke-width="3.2" stroke-linejoin="round"/>
<rect x="973.50" y="827.10" width="13.0" height="13.0" fill="#e6e23c"/>
<rect x="1059.30" y="825.00" width="13.0" height="13.0" fill="#e6e23c"/>
<rect x="1145.10" y="821.90" width="13.0" height="13.0" fill="#e6e23c"/>
<rect x="1230.90" y="816.00" width="13.0" height="13.0" fill="#e6e23c"/>
<rect x="1316.70" y="821.90" width="13.0" height="13.0" fill="#e6e23c"/>
<rect x="1402.50" y="822.40" width="13.0" height="13.0" fill="#e6e23c"/>
<rect x="1488.30" y="826.40" width="13.0" height="13.0" fill="#e6e23c"/>
<rect x="1574.10" y="835.50" width="13.0" height="13.0" fill="#e6e23c"/>
</svg>
</body></html>
